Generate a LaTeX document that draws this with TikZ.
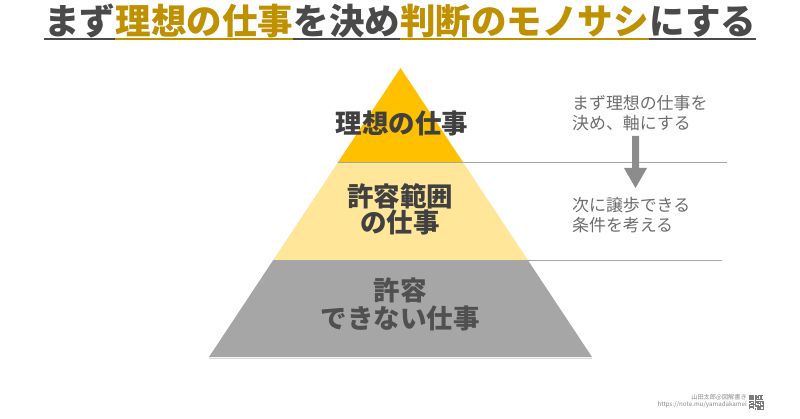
\documentclass[tikz,border=0pt]{standalone}
\usepackage{fontspec}
\setmainfont{Noto Sans CJK JP}
\definecolor{darktxt}{HTML}{4A4A4A}
\definecolor{goldtxt}{HTML}{BF9000}
\definecolor{topc}{HTML}{FFC000}
\definecolor{midc}{HTML}{FFE699}
\definecolor{botc}{HTML}{A6A6A6}
\definecolor{lbltxt}{HTML}{404040}
\definecolor{lbltxtb}{HTML}{505050}
\definecolor{notetxt}{HTML}{6E6E6E}
\definecolor{sepc}{HTML}{A6A6A6}
\definecolor{arrowc}{HTML}{8C8C8C}
\definecolor{credc}{HTML}{8A8A8A}
\tikzset{
  ttl/.style={inner sep=0pt, anchor=base west, font=\fontsize{35.5pt}{40pt}\selectfont\bfseries},
  uldark/.style={draw=darktxt, line width=2pt},
  ulgold/.style={draw=goldtxt, line width=2pt},
  lbl/.style={inner sep=0pt, align=center, text=lbltxt, font=\fontsize{26.5pt}{27pt}\selectfont\bfseries},
  note/.style={inner sep=0pt, align=left, anchor=west, text=notetxt, font=\fontsize{16.9pt}{20pt}\selectfont},
  sepline/.style={draw=sepc, line width=1pt},
  cred/.style={inner sep=0pt, anchor=east, text=credc, font=\fontsize{6.2pt}{7pt}\selectfont},
  qr/.style={fill=credc!90!black}
}
\begin{document}
\begin{tikzpicture}[x=1pt,y=-1pt]
\useasboundingbox (0,0) rectangle (800,419);
\fill[white] (0,0) rectangle (800,419);

% title
\node[ttl, text=darktxt] (t1) at (44,35) {まず};
\node[ttl, text=goldtxt] (t2) at (t1.base east) {理想の仕事};
\node[ttl, text=darktxt] (t3) at (t2.base east) {を決め};
\node[ttl, text=goldtxt] (t4) at (t3.base east) {判断のモノサシ};
\node[ttl, text=darktxt] (t5) at (t4.base east) {にする};
\draw[uldark] ([yshift=-4.5pt]t1.base west) -- ([yshift=-4.5pt]t1.base east);
\draw[ulgold] ([yshift=-4.5pt]t2.base west) -- ([yshift=-4.5pt]t2.base east);
\draw[uldark] ([yshift=-4.5pt]t3.base west) -- ([yshift=-4.5pt]t3.base east);
\draw[ulgold] ([yshift=-4.5pt]t4.base west) -- ([yshift=-4.5pt]t4.base east);
\draw[uldark] ([yshift=-4.5pt]t5.base west) -- ([yshift=-4.5pt]t5.base east);

% pyramid
\coordinate (apex) at (400.5,68);
\coordinate (aL) at (337.5,163);
\coordinate (aR) at (463.5,163);
\coordinate (bL) at (272.6,261);
\coordinate (bR) at (528.4,261);
\coordinate (cL) at (209,357);
\coordinate (cR) at (592,357);
\fill[topc] (apex) -- (aR) -- (aL) -- cycle;
\fill[midc] (aL) -- (aR) -- (bR) -- (bL) -- cycle;
\fill[botc] (bL) -- (bR) -- (cR) -- (cL) -- cycle;
\coordinate (e1) at (727,163);
\coordinate (e2) at (722,261);
\draw[sepline] (aL) -- (e1);
\draw[sepline] (bL) -- (e2);
\draw[draw=black!15, line width=1pt] ([yshift=-1pt]cL) -- ([yshift=-1pt]cR);

\node[lbl] (l1) at (402,123) {理想の仕事};
\node[lbl, font=\fontsize{26.5pt}{25.5pt}\selectfont\bfseries] (l2) at (400,209.5) {許容範囲\\の仕事};
\node[lbl, text=lbltxtb, font=\fontsize{26.5pt}{28pt}\selectfont\bfseries] (l3) at (400,304) {許容\\できない仕事};

% notes
\node[note] (n1) at (572,113) {まず理想の仕事を\\決め、軸にする};
\node[note] (n2) at (572,215) {次に譲歩できる\\条件を考える};

% arrow
\fill[arrowc] (632,136) -- (639,136) -- (639,168) -- (647,168) -- (635.5,188) -- (624,168) -- (632,168) -- cycle;

% credit
\node[cred] (c1) at (747,397.5) {山田太郎@図解書き};
\node[cred] (c2) at (747,405) {https://note.mu/yamadakamei};

% QR code
\pgfmathsetseed{7}
\foreach \i in {0,...,20}{
  \foreach \j in {0,...,20}{
    \pgfmathtruncatemacro\ex{((\i<8) && (\j<8)) || ((\i>12) && (\j<8)) || ((\i<8) && (\j>12)) ? 1 : 0}
    \pgfmathrandominteger{\r}{0}{1}
    \ifnum\ex=0 \ifnum\r=1
      \fill[qr] (749+\i*0.714,395+\j*0.714) rectangle ++(0.714,0.714);
    \fi\fi
  }
}
\foreach \cx/\cy in {749/395, 758.28/395, 749/404.28}{
  \fill[qr] (\cx,\cy) rectangle ++(5,5);
  \fill[white] (\cx+0.714,\cy+0.714) rectangle ++(3.57,3.57);
  \fill[qr] (\cx+1.428,\cy+1.428) rectangle ++(2.14,2.14);
}
\end{tikzpicture}
\end{document}
